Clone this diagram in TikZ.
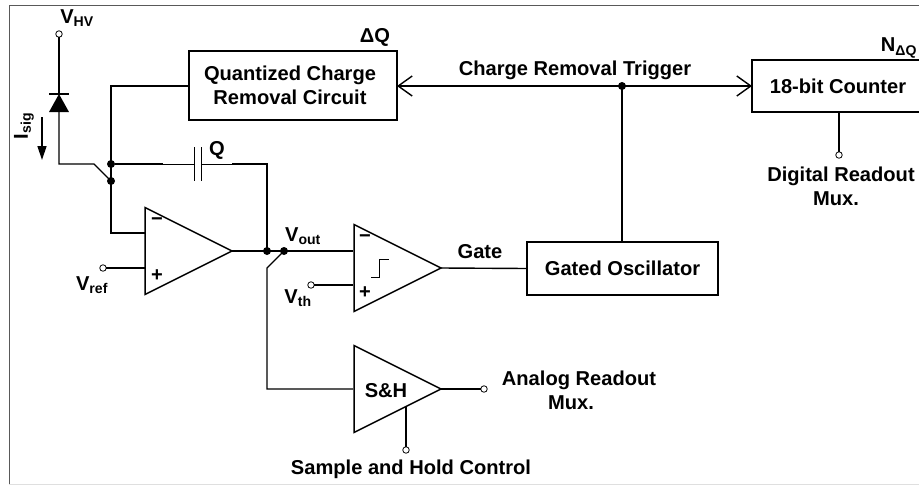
\documentclass[tikz,border=0pt]{standalone}
\usepackage{fontspec}
\setmainfont{Liberation Sans}
\usetikzlibrary{arrows.meta,positioning,shapes.geometric}

\tikzset{
	block/.style={draw,line width=1.5pt,align=center,inner sep=0pt,outer sep=0pt},
	amp/.style={draw,line width=1.5pt,isosceles triangle,isosceles triangle stretches,minimum width=87pt,minimum height=87pt,inner sep=0pt,outer sep=0pt,anchor=apex},
	terminal/.style={circle,draw,fill=white,line width=.8pt,inner sep=0pt,outer sep=0pt,minimum size=6.5pt},
	junction/.style={circle,fill=black,inner sep=0pt,minimum size=8pt},
	wire/.style={line width=1.4pt},
	label/.style={inner sep=0pt,align=center,font=\fontsize{20.1}{24}\selectfont\bfseries}
}

\begin{document}
\begin{tikzpicture}[x=1pt,y=-1pt]
	\useasboundingbox (0,0) rectangle (919,485);
	\draw[gray!70!black,line width=1pt] (9,484.5) -- (9,5) -- (919,5);
	\draw[gray!25,line width=1pt] (9,484.5) -- (919,484.5);

	% blocks
	\node[block,minimum width=208pt,minimum height=69pt] (ChargeRemoval) at (293,85.5) {};
	\node[label] at (290,85) {Quantized Charge\\Removal Circuit};
	\node[block,minimum width=172pt,minimum height=52pt,label] (Counter)       at (838,86)   {18-bit Counter};
	\node[block,minimum width=191pt,minimum height=53pt,label] (Oscillator)    at (622.5,268.5) {Gated Oscillator};

	% amplifiers
	\node[amp]                 (Integrator) at (232,251) {};
	\node[amp]                 (Comparator) at (441,268) {};
	\node[amp]                 (SampleHold) at (441,389) {};
	\node[label] at (386,391) {S\&H};

	% diode
	\node[isosceles triangle,isosceles triangle stretches,shape border rotate=90,fill=black,minimum width=20pt,minimum height=18pt,inner sep=0pt,outer sep=0pt,anchor=apex] (Diode) at (59,94) {};
	\draw[wire] (49,94) -- (69,94);

	% terminals
	\node[terminal] (HV)      at (59,34)    {};
	\node[terminal] (Ref)     at (103,268)  {};
	\node[terminal] (Th)      at (311,285)  {};
	\node[terminal] (Analog)  at (484,389)  {};
	\node[terminal] (Control) at (406,450)  {};
	\node[terminal] (Digital) at (839,155)  {};

	% junctions
	\node[junction] (SumTop) at (111,164) {};
	\node[junction] (SumLow) at (111,181) {};
	\node[junction] (OutA)   at (267,251) {};
	\node[junction] (OutB)   at (284,251) {};
	\node[junction] (Trig)   at (622,86)  {};

	% capacitor
	\coordinate (PlateL) at (194,164);
	\coordinate (PlateR) at (201,164);
	\draw[line width=.8pt] (PlateL) ++(0,-17) -- ++(0,34);
	\draw[line width=.8pt] (PlateR) ++(0,-17) -- ++(0,34);

	\draw[wire] (HV) -- (Diode.apex);
	\draw[wire] (Diode.south) -- (59,164) -- (94,164) -- (SumLow.center);
	\draw[wire] (ChargeRemoval.west |- 0,86) -- (111,86) -- (SumLow.center) -- (111,233) -- (146,233);
	\draw[wire] (SumTop) -- (163,164);
	\draw[line width=.8pt] (163,164) -- (PlateL);
	\draw[line width=.8pt] (PlateR) -- (232,164);
	\draw[wire] (232,164) -- (267,164) -- (OutA.center);
	\draw[wire] (Ref) -- (146,268);
	\draw[wire] (Integrator.apex) -- (353,251);
	\draw[wire] (OutB.center) -- (267,268) -- (267,389) -- (353,389);
	\draw[wire] (Th) -- (353,285);
	\draw[wire] (Comparator.apex) -- (Oscillator.west);
	\draw[wire] (SampleHold.apex) -- (Analog);
	\draw[wire] (406,406) -- (Control);
	\draw[wire] (Trig.center) -- (Trig |- Oscillator.north);
	\draw[wire] (Counter.south -| Digital) -- (Digital);
	\draw[wire,{Straight Barb[length=14pt,width=20pt]}-{Straight Barb[length=14pt,width=20pt]}] (ChargeRemoval.east |- Trig) -- (Counter.west |- Trig);

	% threshold step
	\draw[line width=1pt] (371,277) -- (379,277) -- (379,259) -- (389,259);

	% signal current
	\draw[wire,-{Triangle[length=14pt,width=9pt]}] (42,117) -- (42,160);

	% texts
	\node[label] at (77,18)    {V\textsubscript{HV}};
	\node[label,rotate=90] at (24,126) {I\textsubscript{sig}};
	\node[label] at (217,150)  {Q};
	\node[label] at (375,37)   {ΔQ};
	\node[label] at (575,70)   {Charge Removal Trigger};
	\node[label] at (841,186)  {Digital Readout\\Mux.\hspace*{10pt}};
	\node[label] at (899,48)   {N\textsubscript{ΔQ}};
	\node[label] at (92,285)   {V\textsubscript{ref}};
	\node[label] at (303,236)  {V\textsubscript{out}};
	\node[label] at (298,298)  {V\textsubscript{th}};
	\node[label] at (480,252)  {Gate};
	\node[label] at (579,390)  {Analog Readout\\Mux.\hspace*{16pt}};
	\node[label] at (411,469)  {Sample and Hold Control};
	\node[label] at (157,222)  {\textminus};
	\node[label] at (157,276)  {+};
	\node[label] at (365,239)  {\textminus};
	\node[label] at (365,293)  {+};
\end{tikzpicture}
\end{document}
